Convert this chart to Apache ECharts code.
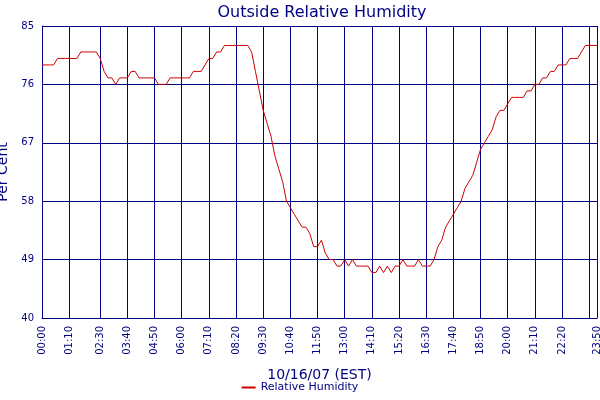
<!DOCTYPE html>
<html><head><meta charset="utf-8">
<script src="https://cdn.jsdelivr.net/npm/echarts@6/dist/echarts.min.js"></script>
<style>html,body{margin:0;padding:0;background:#fff}#c{width:600px;height:400px}</style>
</head><body><div id="c"></div>
<script>
const times = [];
for (let m = 0; m < 1440; m += 10) {
  times.push(String(Math.floor(m/60)).padStart(2,'0') + ':' + String(m%60).padStart(2,'0'));
}
const labelTimes = ['00:00','01:10','02:30','03:40','04:50','06:00','07:10','08:20','09:30','10:40','11:50','13:00','14:10','15:20','16:30','17:40','18:50','20:00','21:10','22:20','23:30','23:50'];
const humidity = [
79,79,79,79,80,80,80,80,80,80,
81,81,81,81,81,80,78,77,77,76,
77,77,77,78,78,77,77,77,77,77,
76,76,76,77,77,77,77,77,77,78,
78,78,79,80,80,81,81,82,82,82,
82,82,82,82,81,78,75,72,70,68,
65,63,61,58,57,56,55,54,54,53,
51,51,52,50,49,49,48,48,49,48,
49,48,48,48,48,47,47,48,47,48,
47,48,48,49,48,48,48,49,48,48,
48,49,51,52,54,55,56,57,58,60,
61,62,64,66,67,68,69,71,72,72,
73,74,74,74,74,75,75,76,76,77,
77,78,78,79,79,79,80,80,80,81,
82,82,82,82];
const yTicks = [40,49,58,67,76,85];
const navy = '#000080';
const chart = echarts.init(document.getElementById('c'));
chart.setOption({
  animation:false,
  title:{text:'Outside Relative Humidity',left:317,top:0,textAlign:'center',
    textStyle:{color:navy,fontSize:16,fontWeight:'normal',fontFamily:'DejaVu Sans'}},
  grid:{left:42,right:3,top:26,bottom:82,containLabel:false,outerBoundsMode:'none'},
  legend:{bottom:2,left:'center',itemWidth:14,itemHeight:2,icon:'rect',
    textStyle:{color:navy,fontSize:11,fontFamily:'DejaVu Sans'},data:['Relative Humidity']},
  xAxis:{type:'category',data:times,boundaryGap:false,
    name:'10/16/07 (EST)',nameLocation:'middle',nameGap:50,
    nameTextStyle:{color:navy,fontSize:14,fontFamily:'DejaVu Sans'},
    axisLine:{lineStyle:{color:navy}},axisTick:{show:false},
    axisLabel:{rotate:90,color:navy,fontSize:10,fontFamily:'DejaVu Sans',
      hideOverlap:false,showMaxLabel:true,showMinLabel:true,
      interval:(i,v)=>labelTimes.includes(v)},
    splitLine:{show:true,interval:(i,v)=>labelTimes.includes(v),lineStyle:{color:navy,width:1}}},
  yAxis:{type:'value',min:yTicks[0],max:yTicks[yTicks.length-1],interval:9,
    name:'Per Cent',nameLocation:'middle',nameGap:28,
    nameTextStyle:{color:navy,fontSize:14,fontFamily:'DejaVu Sans'},
    axisLine:{show:true,lineStyle:{color:navy}},axisTick:{show:false},
    axisLabel:{color:navy,fontSize:10,fontFamily:'DejaVu Sans'},
    splitLine:{lineStyle:{color:navy,width:1}}},
  series:[{name:'Relative Humidity',type:'line',data:humidity,showSymbol:false,
    lineStyle:{color:'#cc0000',width:1},itemStyle:{color:'#cc0000'}}]
});
</script></body></html>
